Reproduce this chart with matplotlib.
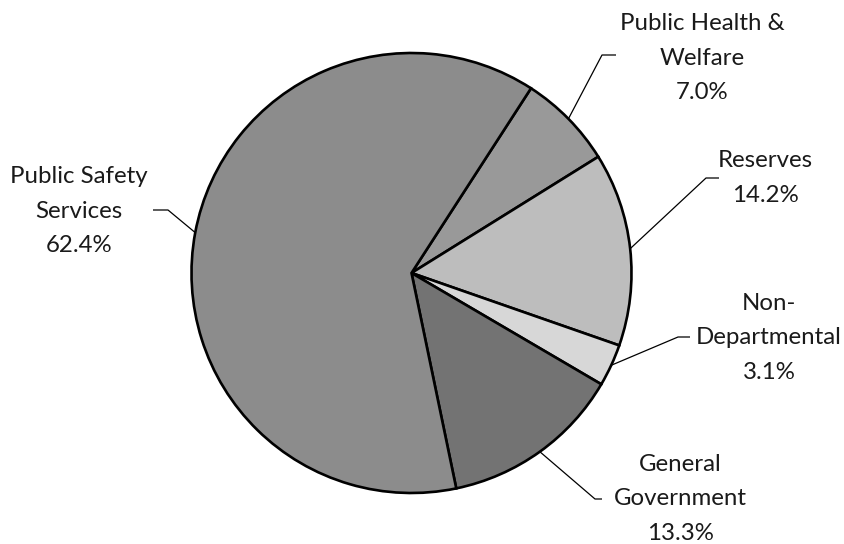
import numpy as np
import matplotlib
matplotlib.use("Agg")
import matplotlib.pyplot as plt

# Data (clockwise order starting from Public Health & Welfare)
categories = ["Public Health &\nWelfare", "Reserves", "Non-\nDepartmental",
              "General\nGovernment", "Public Safety\nServices"]
values = [7.0, 14.2, 3.1, 13.3, 62.4]
colors = ["#999999", "#bdbdbd", "#d7d7d7", "#737373", "#8c8c8c"]

# Layout (pixel space, y measured from top)
W, H = 845, 544
cx, cy, R = 411.5, 273.0, 220.0
start_angle = 57.1
label_pos = [(702, 58), (765, 178), (769, 338), (680, 499), (79, 211)]
elbow_pos = [(602, 55, 616), (706, 178, 719), (678, 337, 690), (595, 499, 602), (168, 210, 153)]

fig = plt.figure(figsize=(W / 100, H / 100), dpi=100)
ax = fig.add_axes([0, 0, 1, 1])
wedges, _ = ax.pie(values, colors=colors, startangle=start_angle, counterclock=False,
                   center=(cx, H - cy), radius=R,
                   wedgeprops=dict(edgecolor="black", linewidth=1.9))
ax.set_xlim(0, W)
ax.set_ylim(0, H)
ax.set_aspect("equal")
ax.axis("off")

font = dict(family=["Lato", "DejaVu Sans"], fontsize=17.3, color="#1a1a1a")
for w, v, lab, (lx, ly), (ex, ey, hx) in zip(wedges, values, categories, label_pos, elbow_pos):
    mid = np.deg2rad((w.theta1 + w.theta2) / 2)
    px = cx + R * np.cos(mid)
    py = (H - cy) + R * np.sin(mid)
    ax.plot([px, ex, hx], [py, H - ey, H - ey], color="black", lw=0.9, solid_capstyle="butt")
    ax.text(lx, H - ly, f"{lab}\n{v:.1f}%", ha="center", va="center",
            linespacing=1.79, **font)

fig.savefig("out.png", dpi=100)
